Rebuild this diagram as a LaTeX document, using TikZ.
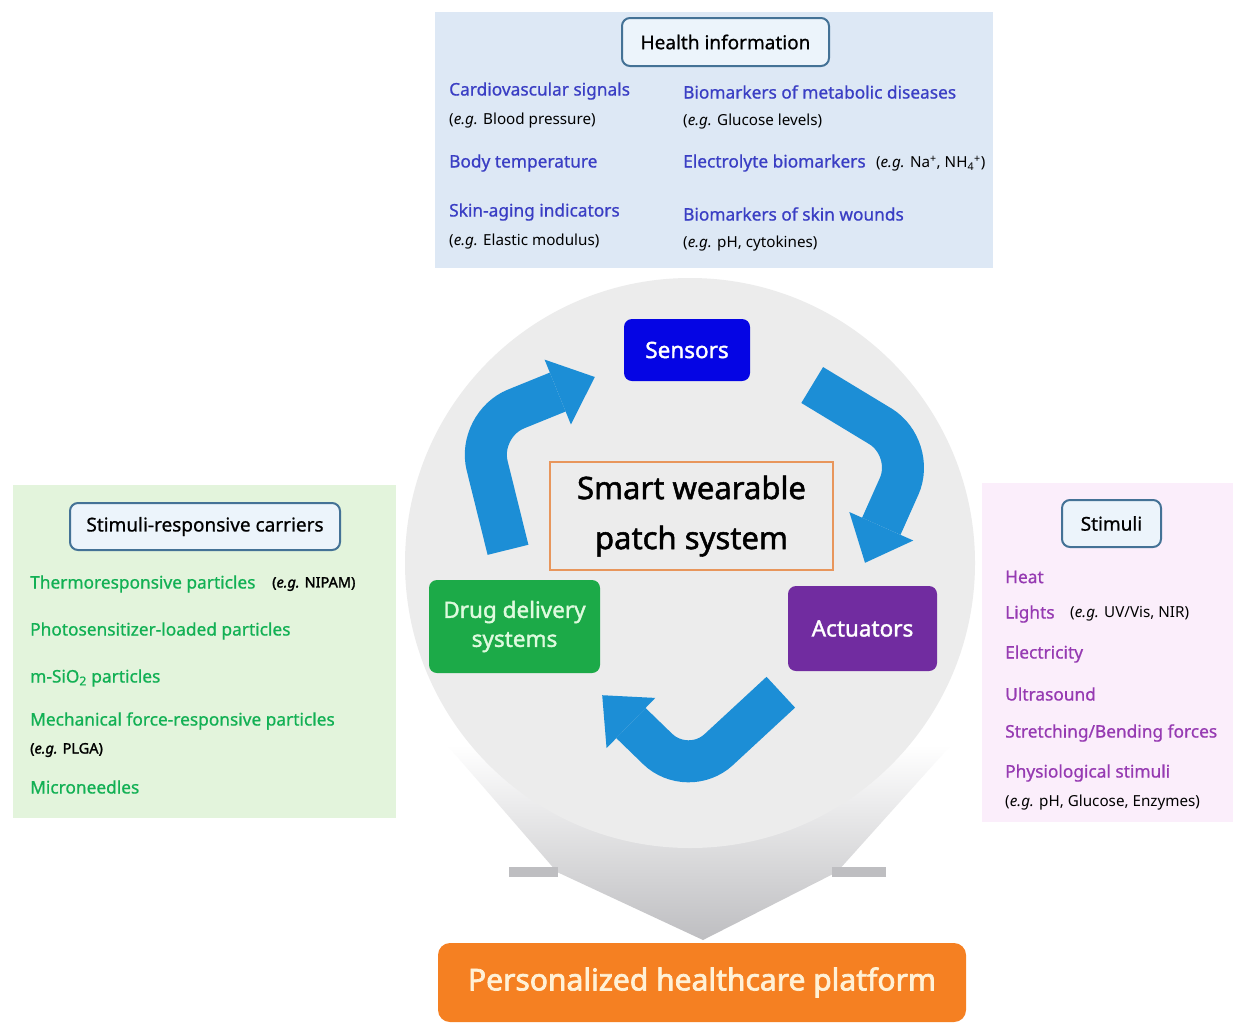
\documentclass[tikz,border=0pt]{standalone}
\usepackage{fontspec}
\setmainfont{Noto Sans}
\newfontfamily\medium[FakeBold=0.8]{Noto Sans}
\newfontfamily\heavy[FakeBold=1.6]{Noto Sans}
\newfontfamily\platformfont[FakeBold=2.4]{Noto Sans}
\usetikzlibrary{arrows.meta}

\definecolor{hinfoblue}{RGB}{58,62,196}
\definecolor{carriergreen}{RGB}{18,176,84}
\definecolor{stimpurple}{RGB}{150,58,178}
\definecolor{panelblue}{RGB}{221,232,245}
\definecolor{panelgreen}{RGB}{227,244,220}
\definecolor{panelpink}{RGB}{251,238,251}
\definecolor{titleframe}{RGB}{68,114,150}
\definecolor{titlefill}{RGB}{236,244,251}
\definecolor{hubgray}{RGB}{236,236,236}
\definecolor{funnelgray}{RGB}{190,190,193}
\definecolor{sensorblue}{RGB}{5,5,228}
\definecolor{druggreen}{RGB}{28,170,72}
\definecolor{drugtext}{RGB}{222,250,222}
\definecolor{actpurple}{RGB}{113,44,160}
\definecolor{cycleblue}{RGB}{28,142,214}
\definecolor{coreframe}{RGB}{232,150,92}
\definecolor{platorange}{RGB}{245,128,34}
\definecolor{platcream}{RGB}{255,241,214}

\begin{document}
\begin{tikzpicture}[x=1pt, y=1pt,
  titlebox/.style={draw=titleframe, line width=2pt, fill=titlefill, rounded corners=8pt,
    inner sep=0pt, font=\medium\fontsize{19}{22}\selectfont},
  hitem/.style={anchor=west, inner sep=0pt, text=hinfoblue, font=\medium\fontsize{17.3}{20}\selectfont},
  citem/.style={hitem, text=carriergreen},
  sitem/.style={hitem, text=stimpurple},
  note/.style={anchor=west, inner sep=0pt, font=\fontsize{15.2}{18}\selectfont},
  boldnote/.style={note, font=\heavy\fontsize{14.5}{18}\selectfont},
  block/.style={rounded corners=8pt, inner sep=0pt, text=white, align=center,
    font=\heavy\fontsize{22.5}{29}\selectfont},
  cyclearrow/.style={cycleblue, line width=42pt, rounded corners=42pt,
    -{Triangle[length=40pt, width=70pt, line width=0pt]}},
]
\useasboundingbox (0,0) rectangle (1233,-1023);
\fill[white] (0,0) rectangle (1233,-1023);

% health information panel
\fill[panelblue] (435,-12) rectangle (993,-268);
\node[titlebox, minimum width=207pt, minimum height=48pt] (health) at (725.5,-42) {Health information};

\node[hitem] (cardio) at (449,-91) {Cardiovascular signals};
\node[note] (cardionote) at (449,-121) {(\textit{e.g.} Blood pressure)};
\node[hitem] (temp) at (449,-163) {Body temperature};
\node[hitem] (aging) at (449,-212) {Skin-aging indicators};
\node[note] (agingnote) at (449,-242) {(\textit{e.g.} Elastic modulus)};

\node[hitem] (metabolic) at (683,-92) {Biomarkers of metabolic diseases};
\node[note] (metabolicnote) at (683,-122) {(\textit{e.g.} Glucose levels)};
\node[hitem] (electro) at (683,-163) {Electrolyte biomarkers};
\node[note, anchor=base west] (electronote) at ([xshift=10pt]electro.base east)
  {(\textit{e.g.} Na\textsuperscript{+}, NH\textsubscript{4}\textsuperscript{+})};
\node[hitem] (wounds) at (683,-214) {Biomarkers of skin wounds};
\node[note] (woundsnote) at (683,-244) {(\textit{e.g.} pH, cytokines)};

% carriers panel
\fill[panelgreen] (13,-485) rectangle (396,-818);
\node[titlebox, minimum width=270pt, minimum height=47pt] (carriers) at (205,-526.5) {Stimuli-responsive carriers};

\node[citem] (thermo) at (30,-584) {Thermoresponsive particles};
\node[boldnote] (thermonote) at (272,-584) {(\textit{e.g.} NIPAM)};
\node[citem] (photo) at (30,-631) {Photosensitizer-loaded particles};
\node[citem] (silica) at (30,-678) {m-SiO\textsubscript{2} particles};
\node[citem] (mech) at (30,-721) {Mechanical force-responsive particles};
\node[boldnote] (mechnote) at (30,-750) {(\textit{e.g.} PLGA)};
\node[citem] (needles) at (30,-787) {Microneedles};

% stimuli panel
\fill[panelpink] (982,-483) rectangle (1233,-822);
\node[titlebox, minimum width=99pt, minimum height=47pt] (stimuli) at (1111.5,-523.5) {Stimuli};

\node[sitem] (heat) at (1005,-577) {Heat};
\node[sitem] (lights) at (1005,-614) {Lights};
\node[note] (lightsnote) at (1070,-614) {(\textit{e.g.} UV/Vis, NIR)};
\node[sitem] (electric) at (1005,-654) {Electricity};
\node[sitem] (ultra) at (1005,-694) {Ultrasound};
\node[sitem] (stretch) at (1005,-733) {Stretching/Bending forces};
\node[sitem] (physio) at (1005,-773) {Physiological stimuli};
\node[note] (physionote) at (1005,-803) {(\textit{e.g.} pH, Glucose, Enzymes)};

% funnel down to the platform
\shade[top color=white, bottom color=funnelgray]
  (447,-745) -- (557,-872) -- (703,-940) -- (837,-872) -- (951,-745) -- cycle;
\fill[funnelgray] (509,-867) rectangle (558,-877);
\fill[funnelgray] (832,-867) rectangle (886,-877);

\node[circle, fill=hubgray, minimum size=570pt, inner sep=0pt] (hub) at (690,-563) {};

\node[draw=coreframe, line width=2.5pt, fill=hubgray, minimum width=283pt, minimum height=108pt,
  align=center, font=\heavy\fontsize{31}{50}\selectfont] (core) at (691.5,-516) {Smart wearable\\patch system};

\node[block, fill=sensorblue, minimum width=126pt, minimum height=62pt] (sensors) at (687,-350) {Sensors};
\node[block, fill=druggreen, text=drugtext, minimum width=171pt, minimum height=93pt] (drug) at (514.5,-626.5)
  {Drug delivery\\systems};
\node[block, fill=actpurple, minimum width=149pt, minimum height=85pt] (actuators) at (862.5,-628.5) {Actuators};

% the feedback loop
\draw[cyclearrow] ([shift={(-6.5,30)}]drug.north) -- ++(-31,125) -- ([shift={(-29,-27)}]sensors.west);
\draw[cyclearrow] ([shift={(62,-35)}]sensors.east) -- ++(104,-63) -- ([shift={(2.5,23)}]actuators.north);
\draw[cyclearrow] ([shift={(-7,-21)}]actuators.south west) -- ++(-93,-86) -- ([shift={(2,-22)}]drug.south east);

\node[fill=platorange, rounded corners=12pt, minimum width=528pt, minimum height=79pt, text=platcream,
  font=\platformfont\fontsize{30}{34}\selectfont] (platform) at (702,-982.5) {Personalized healthcare platform};
\end{tikzpicture}
\end{document}
